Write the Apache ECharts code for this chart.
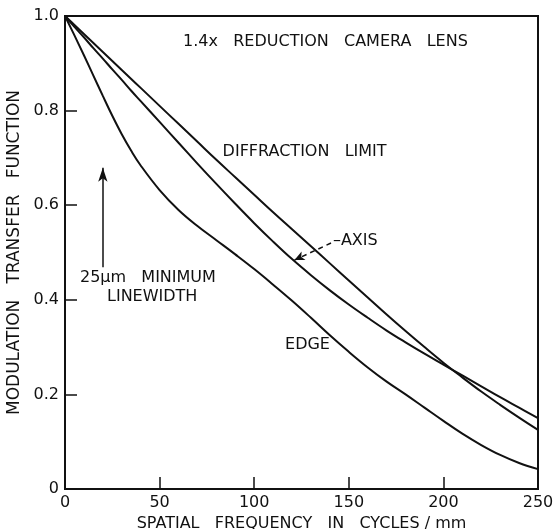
<!DOCTYPE html>
<html>
<head>
<meta charset="utf-8">
<script src="https://cdn.jsdelivr.net/npm/echarts@6/dist/echarts.min.js"></script>
<style>html,body{margin:0;padding:0;background:#fff;}#c{width:554px;height:529px;}</style>
</head>
<body>
<div id="c"></div>
<script>
// spatial frequency (cycles/mm)
var freq = [0,5,10,15,20,25,30,35,40,50,60,70,80,90,100,110,120,130,140,150,160,170,180,190,200,210,220,230,240,250];
var diffractionLimit = [1.0,0.981,0.962,0.943,0.924,0.905,0.886,0.867,0.848,0.810,0.772,0.734,0.696,0.659,0.622,0.585,0.549,0.513,0.477,0.441,0.405,0.369,0.334,0.300,0.267,0.236,0.206,0.178,0.151,0.125];
var axisMTF = [1.0,0.977,0.955,0.932,0.91,0.887,0.865,0.842,0.82,0.776,0.732,0.688,0.645,0.603,0.562,0.523,0.486,0.452,0.42,0.39,0.362,0.335,0.31,0.286,0.263,0.24,0.217,0.194,0.172,0.15];
var edgeMTF = [1.0,0.959,0.917,0.874,0.831,0.789,0.75,0.715,0.684,0.632,0.59,0.556,0.526,0.496,0.465,0.432,0.398,0.362,0.325,0.29,0.257,0.227,0.2,0.172,0.144,0.117,0.093,0.072,0.055,0.042];
var xTicks = [0,50,100,150,200,250];
var yTicks = [0,0.2,0.4,0.6,0.8,1.0];

var FONT = 'DejaVu Sans';
var INK = '#111';
function pairs(ys){ return freq.map(function(x,i){ return [x, ys[i]]; }); }

var chart = echarts.init(document.getElementById('c'), null, {renderer:'canvas'});
var lineStyle = {color: INK, width: 2};
chart.setOption({
  animation: false,
  grid: {left: 65, right: 16, top: 16, bottom: 40, outerBoundsMode: 'none', containLabel: false,
         show: true, borderColor: INK, borderWidth: 2, backgroundColor: 'transparent'},
  xAxis: {
    type: 'value', min: 0, max: 250, interval: 50,
    name: 'SPATIAL   FREQUENCY   IN   CYCLES / mm', nameLocation: 'middle', nameGap: 24,
    nameTextStyle: {fontFamily: FONT, fontSize: 16, color: INK},
    axisLine: {show: true, lineStyle: {color: INK, width: 2}},
    axisTick: {show: true, inside: true, length: 12, lineStyle: {color: INK, width: 1.5}},
    axisLabel: {fontFamily: FONT, fontSize: 16, color: INK, margin: 6},
    splitLine: {show: false}
  },
  yAxis: {
    type: 'value', min: 0, max: 1.0, interval: 0.2,
    name: 'MODULATION   TRANSFER   FUNCTION', nameLocation: 'middle', nameGap: 39, nameRotate: 90,
    nameTextStyle: {fontFamily: FONT, fontSize: 17, color: INK},
    axisLine: {show: true, lineStyle: {color: INK, width: 2}},
    axisTick: {show: true, inside: true, length: 12, lineStyle: {color: INK, width: 1.5}},
    axisLabel: {fontFamily: FONT, fontSize: 16, color: INK, margin: 6,
      formatter: function(v){ return v === 0 ? '0' : v.toFixed(1); }},
    splitLine: {show: false}
  },
  series: [
    {type: 'line', name: 'Diffraction limit', data: pairs(diffractionLimit), smooth: 0.4, showSymbol: false, symbol: 'none', lineStyle: lineStyle,
     markLine: {
       silent: true, animation: false, symbol: ['none', 'arrow'], symbolSize: [7, 14],
       label: {show: false},
       lineStyle: {color: INK, width: 1.5, type: 'solid'},
       data: [
         [{coord: [20, 0.469]}, {coord: [20, 0.679]}]
       ]
     }},
    {type: 'line', name: 'Axis', data: pairs(axisMTF), smooth: 0.4, showSymbol: false, symbol: 'none', lineStyle: lineStyle,
     markLine: {
       silent: true, animation: false, symbol: ['none', 'arrow'], symbolSize: [7, 10],
       label: {show: false},
       lineStyle: {color: INK, width: 1.5, type: [5, 4]},
       data: [
         [{coord: [140.6, 0.52]}, {coord: [121.3, 0.484]}]
       ]
     }},
    {type: 'line', name: 'Edge', data: pairs(edgeMTF), smooth: 0.4, showSymbol: false, symbol: 'none', lineStyle: lineStyle}
  ]
});

// annotations placed in data coordinates
var notes = [
  {t: '1.4x   REDUCTION   CAMERA   LENS', x: 62.4, y: 0.945, align: 'left'},
  {t: 'DIFFRACTION   LIMIT', x: 83.3, y: 0.712, align: 'left'},
  {t: '–AXIS', x: 141.6, y: 0.524, align: 'left'},
  {t: '25μm   MINIMUM', x: 7.9, y: 0.446, align: 'left'},
  {t: 'LINEWIDTH', x: 22.2, y: 0.406, align: 'left'},
  {t: 'EDGE', x: 116.3, y: 0.304, align: 'left'}
];
var g = notes.map(function(n){
  var p = chart.convertToPixel({gridIndex: 0}, [n.x, n.y]);
  return {type: 'text', x: p[0], y: p[1], silent: true,
    style: {text: n.t, fontFamily: FONT, fontSize: 16, fill: INK, align: n.align, verticalAlign: 'middle'}};
});
chart.setOption({graphic: g});
</script>
</body>
</html>
